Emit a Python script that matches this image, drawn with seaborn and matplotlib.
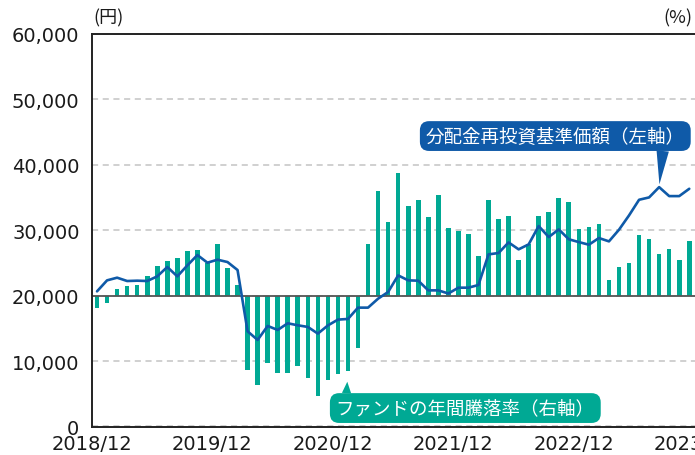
import numpy as np
import matplotlib
matplotlib.use("Agg")
import matplotlib.pyplot as plt
from matplotlib.ticker import FuncFormatter
import seaborn as sns

# monthly data, 2018/12 .. 2023/11
months = np.arange(60)
tick_labels = ["2018/12", "2019/12", "2020/12", "2021/12", "2022/12", "2023/12"]

# 分配金再投資基準価額 (円, left axis)
nav = [20660, 22340, 22750, 22240, 22290, 22240, 22950, 24380, 22950, 24630,
       26210, 25040, 25500, 25140, 23920, 14550, 13230, 15370, 14760, 15780,
       15470, 15220, 14200, 15450, 16340, 16440, 18170, 18170, 19540, 20560,
       23100, 22340, 22290, 20810, 20810, 20330, 21220, 21220, 21630, 26310,
       26520, 28140, 27080, 27840, 30640, 28960, 30130, 28620, 28190, 27790,
       28810, 28300, 30080, 32270, 34660, 35020, 36590, 35220, 35220, 36340]

# ファンドの年間騰落率 (%, right axis)
rate = [-5.8, -3.2, 3.2, 4.6, 5.0, 9.2, 13.7, 16.0, 17.4, 20.6,
        21.1, 15.1, 23.8, 12.8, 5.0, -34.2, -41.1, -31.0, -35.6, -35.6,
        -32.4, -37.9, -46.1, -38.8, -36.0, -34.7, -24.1, 23.8, 48.1, 33.9,
        56.3, 41.2, 44.0, 36.2, 46.3, 31.2, 29.8, 28.4, 18.3, 44.0,
        35.3, 36.6, 16.5, 23.7, 36.6, 38.5, 44.9, 43.1, 30.7, 31.6,
        33.0, 7.3, 13.3, 15.1, 27.9, 26.1, 19.2, 21.5, 16.5, 25.2]

BLUE = "#0F5AA8"
TEAL = "#00A994"

sns.set_style("white")
plt.rcParams["font.family"] = ["DejaVu Sans", "Noto Sans CJK JP"]

fig = plt.figure(figsize=(6.95, 4.56), dpi=100)
ax = fig.add_axes([92 / 695, 28.5 / 456, 608 / 695, 392.5 / 456])
ax2 = ax.twinx()
ax.set_zorder(ax2.get_zorder() + 1)
ax.patch.set_visible(False)

sns.barplot(x=months, y=rate, ax=ax2, native_scale=True, width=0.46,
            color=TEAL, saturation=1, errorbar=None, linewidth=0)
sns.lineplot(x=months, y=nav, ax=ax, color=BLUE, linewidth=1.9)

ax.set_xlim(-0.43, 60.07)
ax.set_ylim(0, 60000)
ax2.set_ylim(-60, 120)

ax.set_xticks(np.arange(len(tick_labels)) * 12 - 0.5, tick_labels)
ax.set_yticks(range(0, 60001, 10000))
ax.yaxis.set_major_formatter(FuncFormatter(lambda v, p: f"{int(v):,}"))
ax.tick_params(length=0, labelsize=14, colors="#1a1a1a")
ax.tick_params(axis="y", pad=9)
ax.tick_params(axis="x", pad=5.5)
ax.set_xlabel("")
ax.set_ylabel("")
ax.spines["right"].set_visible(False)
for s in ["left", "top", "bottom"]:
    ax.spines[s].set_linewidth(1.4)
    ax.spines[s].set_color("#222222")

for s in ax2.spines.values():
    s.set_visible(False)
ax2.set_yticks(np.arange(-60, 121, 30))
ax2.tick_params(right=False, labelright=False, length=0)
ax2.set_ylabel("")
ax2.grid(axis="y", color="#c4c4c4", linestyle=(0, (4, 3)), linewidth=1.1)
ax2.set_axisbelow(True)
ax2.axhline(0, color="#555555", linewidth=1.3, zorder=2.5)

ax.annotate("分配金再投資基準価額（左軸）", xy=(months[56], nav[56]),
            xytext=(0.762, 0.740), textcoords="axes fraction",
            ha="center", va="center", color="white", fontsize=13.3,
            family="Noto Sans CJK JP",
            bbox=dict(boxstyle="round,pad=0.32,rounding_size=0.5", fc=BLUE, ec="none"),
            arrowprops=dict(arrowstyle="wedge,tail_width=0.67", fc=BLUE, ec="none",
                            relpos=(0.917, 0), shrinkA=0, shrinkB=2))

ax2.annotate("ファンドの年間騰落率（右軸）", xy=(months[25], rate[25]),
             xytext=(0.614, 0.047), textcoords="axes fraction",
             ha="center", va="center", color="white", fontsize=13.3,
             family="Noto Sans CJK JP",
             bbox=dict(boxstyle="round,pad=0.32,rounding_size=0.5", fc=TEAL, ec="none"),
             arrowprops=dict(arrowstyle="wedge,tail_width=0.5", fc=TEAL, ec="none",
                             relpos=(0.04, 1), shrinkA=0, shrinkB=7.5))

fig.text(0.156, 0.96, "(円)", ha="center", va="center", fontsize=13,
         family=["Noto Sans CJK JP"], color="#1a1a1a")
fig.text(0.996, 0.96, "(%)", ha="right", va="center", fontsize=13,
         family=["Noto Sans CJK JP"], color="#1a1a1a")

fig.savefig("out.png", dpi=100)
